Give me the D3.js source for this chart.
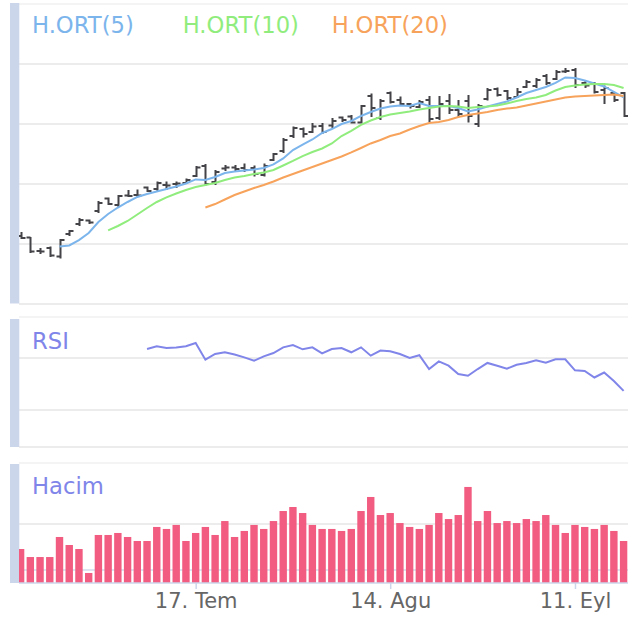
<!DOCTYPE html>
<html>
<head>
<meta charset="utf-8">
<script src="https://cdn.jsdelivr.net/npm/d3@7"></script>
<style>
  body { margin: 0; background: #fff; }
  svg { display: block; font-family: "DejaVu Sans", Verdana, sans-serif; }
</style>
</head>
<body>
<div id="chart"></div>
<script>
const width = 640,
  height = 619,
  plot = { left: 19, right: 628 };

const panes = {
  price: { top: 4, bottom: 304 },
  rsi: { top: 317, bottom: 447 },
  volume: { top: 463, bottom: 583 },
};

// x axis labels (trading-day index -> label)
const tickLabels = ["17. Tem", "14. Agu", "11. Eyl"];
const tickIndex = [18, 38, 57];

const maNames = ["H.ORT(5)", "H.ORT(10)", "H.ORT(20)"];
const maColors = ["#7cb5ec", "#90ed7d", "#f7a35c"];

// OHLC
const open = [4.567, 4.554, 4.442, 4.467, 4.396, 4.583, 4.667, 4.696, 4.775, 4.879, 4.825, 4.904, 4.908, 4.971, 4.958, 4.992, 5.000, 5.008, 5.067, 5.150, 5.017, 5.129, 5.138, 5.133, 5.133, 5.075, 5.200, 5.275, 5.400, 5.458, 5.433, 5.483, 5.488, 5.554, 5.563, 5.513, 5.733, 5.550, 5.758, 5.700, 5.667, 5.642, 5.700, 5.550, 5.692, 5.617, 5.692, 5.500, 5.708, 5.792, 5.775, 5.725, 5.808, 5.817, 5.900, 5.875, 5.938, 5.950, 5.842, 5.842, 5.783, 5.758, 5.758];
const high = [4.600, 4.558, 4.467, 4.479, 4.542, 4.617, 4.717, 4.704, 4.858, 4.888, 4.908, 4.950, 4.954, 4.979, 5.021, 5.021, 5.021, 5.046, 5.150, 5.167, 5.117, 5.158, 5.158, 5.171, 5.154, 5.171, 5.258, 5.383, 5.479, 5.471, 5.508, 5.508, 5.550, 5.563, 5.575, 5.658, 5.754, 5.708, 5.771, 5.729, 5.675, 5.700, 5.733, 5.733, 5.750, 5.700, 5.742, 5.667, 5.800, 5.804, 5.783, 5.800, 5.867, 5.883, 5.917, 5.950, 5.967, 5.967, 5.867, 5.850, 5.821, 5.767, 5.767];
const low = [4.542, 4.425, 4.417, 4.392, 4.379, 4.567, 4.650, 4.667, 4.758, 4.825, 4.808, 4.892, 4.892, 4.933, 4.942, 4.950, 4.967, 5.000, 5.058, 4.988, 4.992, 5.108, 5.108, 5.100, 5.063, 5.063, 5.192, 5.258, 5.383, 5.388, 5.425, 5.417, 5.467, 5.517, 5.504, 5.504, 5.558, 5.533, 5.671, 5.658, 5.629, 5.633, 5.517, 5.533, 5.583, 5.558, 5.513, 5.475, 5.696, 5.729, 5.700, 5.717, 5.800, 5.800, 5.825, 5.867, 5.925, 5.800, 5.800, 5.754, 5.667, 5.683, 5.558];
const close = [4.550, 4.438, 4.438, 4.404, 4.533, 4.608, 4.700, 4.679, 4.842, 4.833, 4.900, 4.900, 4.904, 4.942, 5.008, 4.988, 5.004, 5.033, 5.138, 5.000, 5.100, 5.138, 5.125, 5.117, 5.083, 5.150, 5.250, 5.367, 5.467, 5.417, 5.479, 5.433, 5.525, 5.533, 5.513, 5.650, 5.633, 5.692, 5.683, 5.667, 5.650, 5.683, 5.542, 5.667, 5.617, 5.583, 5.567, 5.650, 5.783, 5.742, 5.717, 5.767, 5.850, 5.867, 5.842, 5.933, 5.942, 5.825, 5.821, 5.767, 5.800, 5.700, 5.567];

// moving averages as drawn
const sma5 = [null, null, null, null, 4.479, 4.488, 4.533, 4.592, 4.683, 4.750, 4.804, 4.850, 4.892, 4.917, 4.938, 4.958, 4.979, 5.004, 5.038, 5.033, 5.058, 5.092, 5.104, 5.113, 5.121, 5.133, 5.163, 5.213, 5.283, 5.329, 5.371, 5.425, 5.458, 5.500, 5.525, 5.567, 5.600, 5.629, 5.646, 5.654, 5.650, 5.675, 5.650, 5.650, 5.650, 5.633, 5.604, 5.621, 5.646, 5.667, 5.688, 5.721, 5.758, 5.783, 5.808, 5.842, 5.888, 5.883, 5.863, 5.838, 5.813, 5.767, 5.721];
const sma10 = [null, null, null, null, null, null, null, null, null, 4.613, 4.650, 4.692, 4.746, 4.800, 4.850, 4.888, 4.921, 4.950, 4.975, 4.992, 5.008, 5.033, 5.054, 5.067, 5.083, 5.096, 5.117, 5.154, 5.192, 5.233, 5.267, 5.296, 5.338, 5.400, 5.442, 5.492, 5.529, 5.558, 5.579, 5.592, 5.604, 5.621, 5.633, 5.646, 5.650, 5.646, 5.633, 5.642, 5.646, 5.654, 5.671, 5.692, 5.708, 5.721, 5.742, 5.779, 5.808, 5.821, 5.829, 5.833, 5.833, 5.825, 5.800];
const sma20 = [null, null, null, null, null, null, null, null, null, null, null, null, null, null, null, null, null, null, null, 4.804, 4.833, 4.871, 4.908, 4.938, 4.967, 4.992, 5.021, 5.054, 5.083, 5.113, 5.142, 5.171, 5.200, 5.229, 5.263, 5.300, 5.338, 5.367, 5.400, 5.421, 5.454, 5.483, 5.508, 5.517, 5.533, 5.558, 5.575, 5.588, 5.600, 5.617, 5.629, 5.638, 5.654, 5.671, 5.688, 5.704, 5.721, 5.729, 5.733, 5.738, 5.742, 5.746, 5.733];

const rsi = [null, null, null, null, null, null, null, null, null, null, null, null, null, 76.9, 79.0, 77.7, 78.1, 79.0, 81.5, 68.7, 73.1, 74.4, 72.7, 70.5, 67.9, 71.3, 73.8, 78.2, 80.0, 76.7, 78.2, 73.6, 76.9, 77.7, 74.4, 78.2, 71.8, 75.7, 75.2, 73.1, 70.0, 72.1, 61.5, 67.4, 64.1, 57.7, 56.3, 61.5, 66.2, 64.1, 61.8, 64.8, 66.2, 68.2, 66.4, 69.0, 69.0, 60.5, 60.0, 55.0, 58.8, 52.3, 44.7];

// volume, millions
const volume = [2.88, 2.20, 2.20, 2.20, 3.90, 3.22, 2.88, 0.85, 4.07, 4.07, 4.24, 3.90, 3.56, 3.56, 4.75, 4.58, 4.92, 3.56, 4.24, 4.75, 4.07, 5.25, 3.90, 4.41, 4.92, 4.58, 5.25, 6.10, 6.44, 5.93, 4.92, 4.58, 4.58, 4.41, 4.58, 6.10, 7.29, 5.76, 5.93, 5.08, 4.75, 4.58, 4.92, 5.93, 5.42, 5.76, 8.14, 5.25, 6.10, 5.08, 5.25, 5.08, 5.42, 5.25, 5.76, 4.92, 4.24, 4.92, 4.75, 4.58, 4.92, 4.41, 3.56];

const priceGrid = [4, 4.5, 5, 5.5, 6, 6.5];
const rsiGrid = [30, 70];
const volumeGrid = [0, 5];

init();

function init() {
  const svg = d3.select("#chart")
    .append("svg")
    .attr("width", width)
    .attr("height", height);

  const x = d3.scaleLinear().domain([0, close.length - 1]).range([20.6, 623.6]);
  const yPrice = d3.scaleLinear().domain([4, 6.5]).range([304, 4]);
  const yRsi = d3.scaleLinear().domain([0, 100]).range([449, 319]);
  const yVol = d3.scaleLinear().domain([0, 10]).range([583, 465]);

  // clip paths per pane
  const defs = svg.append("defs");
  Object.entries(panes).forEach(([k, p]) => {
    defs.append("clipPath").attr("id", "clip-" + k)
      .append("rect")
      .attr("x", plot.left).attr("y", p.top - 2)
      .attr("width", plot.right - plot.left)
      .attr("height", p.bottom - p.top + 2);
  });

  const hline = (y, color, w) => svg.append("line")
    .attr("x1", plot.left).attr("x2", plot.right)
    .attr("y1", y).attr("y2", y)
    .attr("stroke", color).attr("stroke-width", w || 1.5);

  // grid
  priceGrid.forEach(v => hline(yPrice(v), v === 6.5 ? "#f0f0f0" : "#e6e6e6"));
  hline(panes.rsi.top, "#f0f0f0");
  rsiGrid.forEach(v => hline(yRsi(v), "#e6e6e6"));
  hline(panes.rsi.bottom, "#e6e6e6");
  hline(panes.volume.top, "#f0f0f0");
  hline(yVol(volumeGrid[1]), "#e6e6e6");
  hline(570, "#d3dcee");

  // left bands
  [[3, 303.5], [319, 447], [464, 583]].forEach(([a, b]) => {
    svg.append("rect")
      .attr("x", 10).attr("y", a)
      .attr("width", 9.3).attr("height", b - a)
      .attr("fill", "#ccd6eb");
  });

  // OHLC
  const ohlc = svg.append("g").attr("clip-path", "url(#clip-price)");
  ohlc.selectAll("path")
    .data(close)
    .join("path")
    .attr("fill", "none")
    .attr("stroke", "#434348")
    .attr("stroke-width", 2)
    .attr("d", (c, i) => {
      const cx = Math.round(x(i)) + 0.5;
      return `M${cx},${yPrice(high[i])}V${yPrice(low[i])}` +
        `M${cx - 4},${yPrice(open[i])}H${cx}` +
        `M${cx},${yPrice(c)}H${cx + 4}`;
    });

  // moving averages
  const maLine = d3.line()
    .defined(d => d != null)
    .x((d, i) => x(i))
    .y(d => yPrice(d));

  const maG = svg.append("g").attr("clip-path", "url(#clip-price)");
  [sma5, sma10, sma20].forEach((s, k) => {
    maG.append("path")
      .attr("d", maLine(s))
      .attr("fill", "none")
      .attr("stroke", maColors[k])
      .attr("stroke-width", 2);
  });

  // legend
  const legendX = [32, 182.7, 331.7];
  maNames.forEach((n, k) => {
    svg.append("text")
      .attr("x", legendX[k]).attr("y", 33)
      .attr("font-size", 22.7)
      .attr("fill", maColors[k])
      .text(n);
  });

  // RSI
  const rsiLine = d3.line()
    .defined(d => d != null)
    .x((d, i) => x(i))
    .y(d => yRsi(d));
  svg.append("g").attr("clip-path", "url(#clip-rsi)")
    .append("path")
    .attr("d", rsiLine(rsi))
    .attr("fill", "none")
    .attr("stroke", "#8085e9")
    .attr("stroke-width", 2);

  svg.append("text")
    .attr("x", 32).attr("y", 349)
    .attr("font-size", 22.7)
    .attr("fill", "#8085e9")
    .text("RSI");

  // volume
  svg.append("g").attr("clip-path", "url(#clip-volume)")
    .selectAll("rect")
    .data(volume)
    .join("rect")
    .attr("x", (d, i) => x(i) - 3.7)
    .attr("width", 7.4)
    .attr("y", d => yVol(d))
    .attr("height", d => yVol(0) - yVol(d))
    .attr("fill", "#f15c80");

  svg.append("text")
    .attr("x", 32).attr("y", 494)
    .attr("font-size", 22.7)
    .attr("fill", "#8085e9")
    .text("Hacim");

  // x axis
  hline(panes.volume.bottom, "#ccd6eb", 1.5);
  const xAxis = svg.append("g")
    .attr("transform", `translate(0,${panes.volume.bottom})`)
    .call(d3.axisBottom(x)
      .tickValues(tickIndex)
      .tickFormat((d, i) => tickLabels[i])
      .tickSize(6)
      .tickSizeOuter(0)
      .tickPadding(4));
  xAxis.select(".domain").remove();
  xAxis.selectAll(".tick line").attr("stroke", "#ccd6eb").attr("stroke-width", 1.5);
  xAxis.selectAll(".tick text")
    .attr("fill", "#666666")
    .attr("font-size", 21)
    .attr("font-family", "DejaVu Sans, Verdana, sans-serif");
}
</script>
</body>
</html>
